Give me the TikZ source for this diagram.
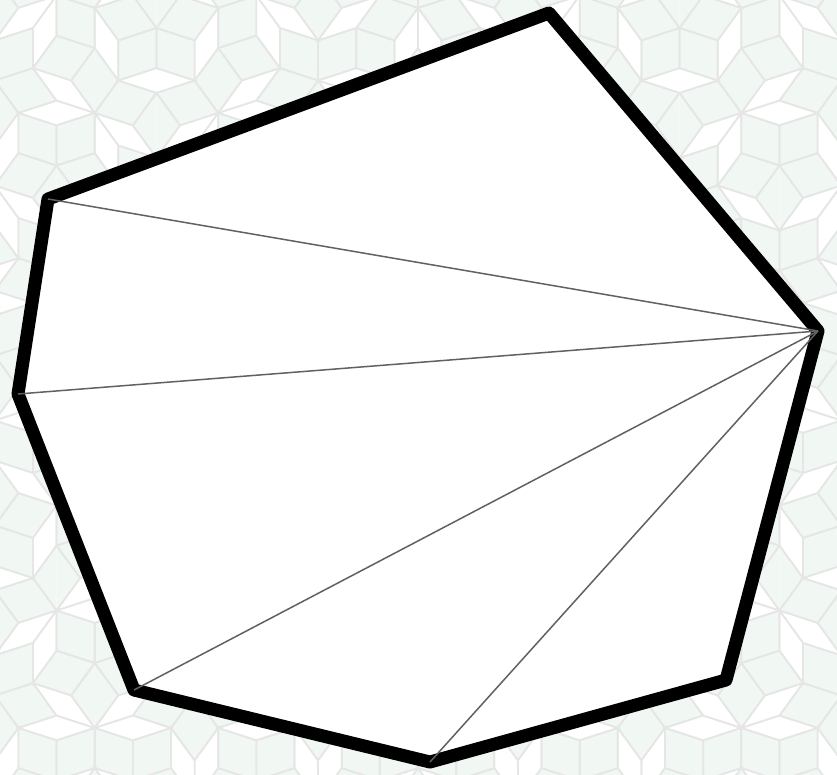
\documentclass[tikz,border=0pt]{standalone}
\usepackage{xcolor}
\usepackage{tikz}
\usetikzlibrary{calc}

\definecolor{tilegray}{HTML}{E6E6E6}
\definecolor{tilegreen}{HTML}{F1F7F2}

% Penrose rhombs from Robinson triangles
\def\goldinv{0.618034}
\newif\iffillpass
\newcommand\robtri[8]{%
  \ifnum#1=0
    \iffillpass
      \ifnum#2=1 \fill[tilefill] (#3,#4) -- (#5,#6) -- (#7,#8) -- cycle;\fi
    \else
      \draw[tileline] (#7,#8) -- (#3,#4) -- (#5,#6);
    \fi
  \else
    \begingroup
    \pgfmathtruncatemacro\lv{#1-1}%
    \ifnum#2=0
      \pgfmathsetmacro\px{#3+(#5-#3)*\goldinv}%
      \pgfmathsetmacro\py{#4+(#6-#4)*\goldinv}%
      \edef\nxt{\noexpand\robtri{\lv}{0}{#7}{#8}{\px}{\py}{#5}{#6}%
        \noexpand\robtri{\lv}{1}{\px}{\py}{#7}{#8}{#3}{#4}}%
    \else
      \pgfmathsetmacro\qx{#5+(#3-#5)*\goldinv}%
      \pgfmathsetmacro\qy{#6+(#4-#6)*\goldinv}%
      \pgfmathsetmacro\rx{#5+(#7-#5)*\goldinv}%
      \pgfmathsetmacro\ry{#6+(#8-#6)*\goldinv}%
      \edef\nxt{\noexpand\robtri{\lv}{1}{\rx}{\ry}{#7}{#8}{#3}{#4}%
        \noexpand\robtri{\lv}{1}{\qx}{\qy}{\rx}{\ry}{#5}{#6}%
        \noexpand\robtri{\lv}{0}{\rx}{\ry}{\qx}{\qy}{#3}{#4}}%
    \fi
    \expandafter\endgroup\nxt
  \fi}

\newcommand\penrosewheel{%
  \foreach \i in {0,...,9}{%
    \pgfmathsetmacro\bx{418+720*cos((2*\i-1)*18)}%
    \pgfmathsetmacro\by{388+720*sin((2*\i-1)*18)}%
    \pgfmathsetmacro\cx{418+720*cos((2*\i+1)*18)}%
    \pgfmathsetmacro\cy{388+720*sin((2*\i+1)*18)}%
    \ifodd\i
      \edef\nxt{\noexpand\robtri{6}{0}{418}{388}{\bx}{\by}{\cx}{\cy}}%
    \else
      \edef\nxt{\noexpand\robtri{6}{0}{418}{388}{\cx}{\cy}{\bx}{\by}}%
    \fi
    \nxt
  }}

\begin{document}
\begin{tikzpicture}[
    x=1pt, y=-1pt,
    tileline/.style={draw=tilegray, line width=1.7pt},
    tilefill/.style={fill=tilegreen},
    hull/.style={line width=13pt, line join=round},
    diag/.style={draw=black!62, line width=1.5pt},
  ]
  \useasboundingbox (0,0) rectangle (837,775);

  % background tiling
  \begin{scope}
    \clip (0,0) rectangle (837,775);
    \fillpasstrue
    \penrosewheel
    \fillpassfalse
    \penrosewheel
  \end{scope}

  % polygon corners
  \coordinate (top) at (549,13);
  \coordinate (rt) at (818,331);
  \coordinate (rb) at (726,680);
  \coordinate (bot) at (430,762);
  \coordinate (lb) at (134,690);
  \coordinate (lf) at (18,394);
  \coordinate (lt) at (48,199);

  \fill[white] (top) -- (rt) -- (rb) -- (bot) -- (lb) -- (lf) -- (lt) -- cycle;
  \draw[hull] (top) -- (rt) -- (rb) -- (bot) -- (lb) -- (lf) -- (lt) -- cycle;

  % fan from the right corner
  \foreach \v in {lt,lf,lb,bot}
    \draw[diag] (rt) -- (\v);
\end{tikzpicture}
\end{document}
